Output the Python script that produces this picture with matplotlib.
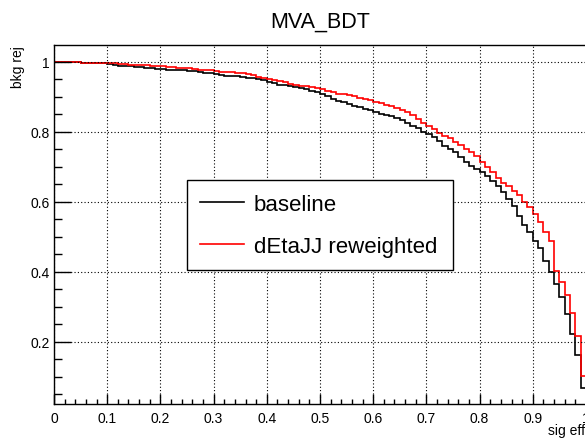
import numpy as np
import matplotlib
matplotlib.use("Agg")
import matplotlib.pyplot as plt
from matplotlib.ticker import MultipleLocator, FormatStrFormatter

plt.rcParams['font.family'] = ['Liberation Sans', 'DejaVu Sans']

# ROC curves, 100 bins of signal efficiency (0..1)
bin_edges = np.linspace(0.0, 1.0, 101)

baseline = [
    1.000, 1.000, 1.000, 1.000, 1.000, 0.997, 0.997, 0.997, 0.997, 0.997,
    0.993, 0.990, 0.989, 0.987, 0.987, 0.986, 0.985, 0.983, 0.981, 0.980,
    0.979, 0.978, 0.977, 0.976, 0.976, 0.974, 0.973, 0.971, 0.968, 0.967,
    0.964, 0.962, 0.960, 0.960, 0.959, 0.957, 0.955, 0.953, 0.950, 0.948,
    0.943, 0.939, 0.935, 0.933, 0.930, 0.927, 0.924, 0.921, 0.917, 0.914,
    0.908, 0.902, 0.895, 0.889, 0.884, 0.879, 0.874, 0.870, 0.866, 0.862,
    0.858, 0.852, 0.848, 0.844, 0.840, 0.834, 0.826, 0.818, 0.810, 0.800,
    0.793, 0.784, 0.774, 0.760, 0.751, 0.741, 0.727, 0.713, 0.703, 0.693,
    0.686, 0.674, 0.660, 0.646, 0.627, 0.608, 0.588, 0.560, 0.533, 0.513,
    0.489, 0.468, 0.431, 0.400, 0.365, 0.328, 0.279, 0.222, 0.163, 0.068,
]

reweighted = [
    1.000, 1.000, 1.000, 1.000, 1.000, 0.997, 0.997, 0.997, 0.997, 0.997,
    0.996, 0.996, 0.995, 0.993, 0.992, 0.992, 0.991, 0.990, 0.989, 0.989,
    0.988, 0.986, 0.984, 0.983, 0.982, 0.981, 0.979, 0.978, 0.977, 0.976,
    0.975, 0.972, 0.971, 0.970, 0.968, 0.967, 0.964, 0.961, 0.957, 0.954,
    0.950, 0.947, 0.944, 0.941, 0.938, 0.935, 0.932, 0.930, 0.928, 0.924,
    0.921, 0.918, 0.913, 0.909, 0.907, 0.904, 0.901, 0.898, 0.894, 0.890,
    0.884, 0.881, 0.877, 0.873, 0.869, 0.863, 0.857, 0.847, 0.836, 0.825,
    0.817, 0.808, 0.798, 0.789, 0.782, 0.771, 0.762, 0.751, 0.741, 0.731,
    0.713, 0.698, 0.684, 0.668, 0.655, 0.644, 0.631, 0.619, 0.599, 0.585,
    0.565, 0.543, 0.513, 0.489, 0.403, 0.371, 0.333, 0.282, 0.217, 0.103,
]

fig = plt.figure(figsize=(5.85, 4.39), dpi=100)
ax = fig.add_axes([54 / 585, 1 - 405 / 439, 532 / 585, (405 - 45.7) / 439])

ax.stairs(baseline, bin_edges, baseline=None, color='black', lw=1.2, label='baseline')
ax.stairs(reweighted, bin_edges, baseline=None, color='#ff0000', lw=1.2, label='dEtaJJ reweighted')

ax.set_xlim(0, 1)
ax.set_ylim(0.022, 1.049)

ax.xaxis.set_major_locator(MultipleLocator(0.1))
ax.xaxis.set_minor_locator(MultipleLocator(0.02))
ax.yaxis.set_major_locator(MultipleLocator(0.2))
ax.yaxis.set_minor_locator(MultipleLocator(0.05))
ax.xaxis.set_major_formatter(FormatStrFormatter('%g'))
ax.yaxis.set_major_formatter(FormatStrFormatter('%g'))

ax.tick_params(axis='x', which='major', direction='in', length=7, width=1, pad=5, labelsize=10)
ax.tick_params(axis='x', which='minor', direction='in', length=3.3, width=1)
ax.tick_params(axis='y', which='major', direction='in', length=12, width=1, pad=3, labelsize=10)
ax.tick_params(axis='y', which='minor', direction='in', length=6, width=1)
ax.tick_params(top=False, right=False, which='both')

ax.grid(True, which='major', color='black', linestyle=(0, (1, 2)), lw=0.8)
for s in ax.spines.values():
    s.set_linewidth(1)

leg = ax.legend(loc='center', bbox_to_anchor=(0.25, 0.498, 0.5, 0), mode='expand',
                borderaxespad=0, fontsize=16, frameon=True, fancybox=False,
                edgecolor='black', framealpha=1, handlelength=1.95,
                handletextpad=0.45, borderpad=0.6, labelspacing=0.95)
leg.get_frame().set_linewidth(1)

fig.text(320 / 585, 1 - 22 / 439, 'MVA_BDT', ha='center', va='center', fontsize=15.5)
fig.text(18 / 585, 1 - 46 / 439, 'bkg rej', rotation=90, ha='center', va='top', fontsize=10)
fig.text(585 / 585, 1 - 431 / 439, 'sig eff', ha='right', va='center', fontsize=10)

fig.savefig('out.png', dpi=100)
